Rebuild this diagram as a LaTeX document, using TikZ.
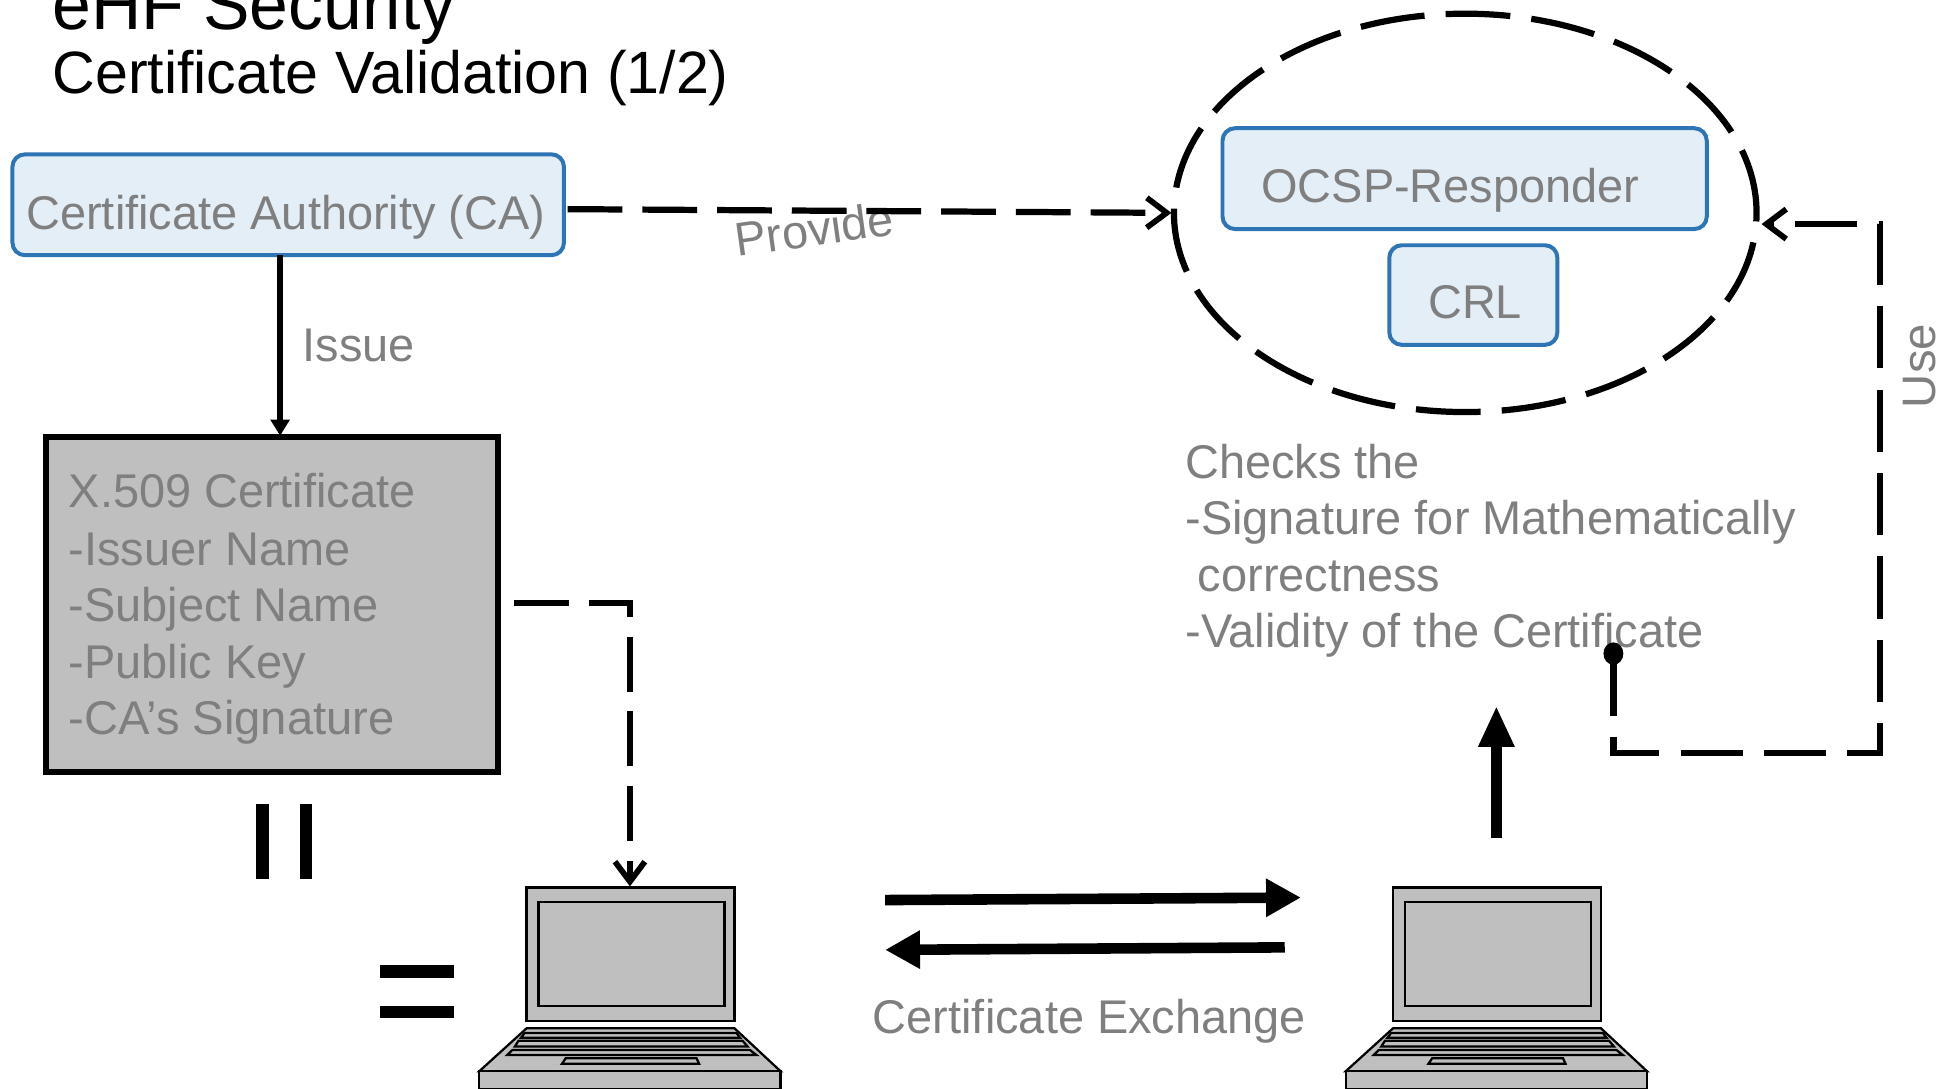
\documentclass[tikz,border=0pt]{standalone}
\usepackage{fontspec}
\setmainfont{Liberation Sans}
\usetikzlibrary{arrows.meta,shapes.geometric,positioning}
\definecolor{boxblue}{HTML}{2E75B6}
\definecolor{boxfill}{HTML}{E4EEF7}
\definecolor{txtgray}{HTML}{7F7F7F}
\definecolor{greyfill}{HTML}{BFBFBF}
\newcommand{\fs}[1]{\fontsize{#1}{#1}\selectfont}
\tikzset{
  x=1pt,y=-1pt,
  bluebox/.style={draw=boxblue,fill=boxfill,line width=3.2pt,rounded corners=10pt,inner sep=0pt,minimum width=#1},
  lbl/.style={anchor=base west,inner sep=0pt,text=txtgray,xscale=0.992},
  ttl/.style={anchor=base west,inner sep=0pt,text=black,xscale=0.99},
  dashh/.style={line width=5pt,dash pattern=on 44pt off 16pt},
  barb/.style={-{Straight Barb[length=16pt,width=24pt,line width=4.6pt]}},
  bigtip/.style={-{Triangle[length=28pt,width=29pt]},line width=8.5pt},
  lapline/.style={draw=black,fill=greyfill,line width=1.8pt,line join=miter},
  laptop/.pic={
    \path[lapline] (-83.5,0) rectangle (83.5,107);
    \path[lapline] (-74,11.5) rectangle (75.5,95);
    \path[lapline] (-83.5,113) -- (83.5,113) -- (120.5,147.5) -- (-121.5,147.5) -- cycle;
    \path[lapline] (-121.5,147.5) rectangle (120.5,162);
    \path[lapline] (-85,116.7) -- (85,116.7) -- (88,120.6) -- (-88,120.6) -- cycle;
    \path[lapline] (-90,123) -- (90,123) -- (94,127.7) -- (-93,127.7) -- cycle;
    \path[lapline] (-95,130.5) -- (96,130.5) -- (101,134.4) -- (-99,134.4) -- cycle;
    \path[lapline] (-52,137) -- (53,137) -- (55,141.4) -- (-55,141.4) -- cycle;
  }
}
\begin{document}
\begin{tikzpicture}
\useasboundingbox (0,0) rectangle (1568,874);
\clip (0,0) rectangle (1568,874);
% titles
\node[ttl,font=\fs{58},xscale=0.975] (t1) at (42,24) {eHF Security};
\node[ttl,font=\fs{48}] (t2) at (42,75) {Certificate Validation (1/2)};
% boxes
\node[bluebox=443pt,minimum height=81pt] (ca) at (231.5,164.5) {};
\node[lbl,font=\fs{38}] (catxt) at (21,184) {Certificate Authority (CA)};
\node[bluebox=389pt,minimum height=81pt] (ocsp) at (1176.5,143.5) {};
\node[lbl,font=\fs{38}] (ocsptxt) at (1013,163) {OCSP-Responder};
\node[bluebox=135pt,minimum height=80pt] (crl) at (1183.5,237) {};
\node[lbl,font=\fs{38}] (crltxt) at (1147,256) {CRL};
\node[draw=black,fill=greyfill,line width=4.6pt,minimum width=363pt,minimum height=269pt,inner sep=0pt] (cert) at (218.5,485.5) {};
\node[lbl,font=\fs{38}] (c1) at (55,408) {X.509 Certificate};
\node[lbl,font=\fs{38}] (c2) at (55,454) {-Issuer Name};
\node[lbl,font=\fs{38}] (c3) at (55,499) {-Subject Name};
\node[lbl,font=\fs{38}] (c4) at (55,545) {-Public Key};
\node[lbl,font=\fs{38},xscale=1.005] (c5) at (55,590) {-CA’s Signature};
% ellipse
\node[ellipse,draw=black,line width=5pt,dash pattern=on 52pt off 17pt,minimum width=468pt,minimum height=320pt,inner sep=0pt] (resp) at (1177,171) {};
% equals and bars
\fill (206,646) rectangle (216,706);
\fill (241,646) rectangle (251,706);
\fill (305,775) rectangle (365,786);
\fill (305,808) rectangle (365,818);
% laptops
\pic at (506.5,713) {laptop};
\pic at (1202.5,713) {laptop};
\coordinate (lap1) at (506,712);
\coordinate (lap2) at (1202,673);
% labels
\node[lbl,font=\fs{38}] (issue) at (243,290) {Issue};
\node[lbl,font=\fs{38},rotate=8,anchor=center] (prov) at (654,184) {Provide};
\node[lbl,font=\fs{38}] (ex) at (701,830) {Certificate Exchange};
\node[lbl,font=\fs{38},rotate=90,anchor=center,xscale=1] (use) at (1542,294) {Use};
\node[lbl,font=\fs{38}] (k1) at (952,384) {Checks the};
\node[lbl,font=\fs{38}] (k2) at (952,429) {-Signature for Mathematically};
\node[lbl,font=\fs{38}] (k3) at (962,475) {correctness};
\node[lbl,font=\fs{38}] (k4) at (952,520) {-Validity of the Certificate};
% connectors
\coordinate (a1) at (456,168);
\coordinate (a2) at (941,171);
\draw[dashh,barb] (a1) -- (a2);
\coordinate (caout) at (225,205);
\coordinate (certin) at (225,350);
\draw[line width=4.4pt,-{Triangle[length=13pt,width=15pt]}] (caout) -- (certin);
\coordinate (b1) at (413,484.5);
\coordinate (b2) at (506,484.5);
\draw[line width=4.6pt,dash pattern=on 44pt off 16pt,barb] (b1) -- (b2) -- (lap1);
\coordinate (d1) at (1296,525);
\coordinate (d2) at (1296,605);
\coordinate (d3) at (1510,605);
\coordinate (d4) at (1510,180);
\coordinate (d5) at (1415,180);
\fill (d1) ellipse (8pt and 9pt);
\draw[line width=5pt,dash pattern=on 50pt off 17pt,barb,line join=miter] (d1) -- (d2) -- (d3) -- (d4) -- (d5);
\coordinate (e1) at (711,723);
\coordinate (e2) at (1045,721);
\draw[bigtip] (e1) -- (e2);
\coordinate (f1) at (1032,761);
\coordinate (f2) at (711,763);
\draw[bigtip] (f1) -- (f2);
\coordinate (g2) at (1202,567);
\draw[line width=9pt,-{Triangle[length=33pt,width=27pt]}] (lap2) -- (g2);
\end{tikzpicture}
\end{document}
